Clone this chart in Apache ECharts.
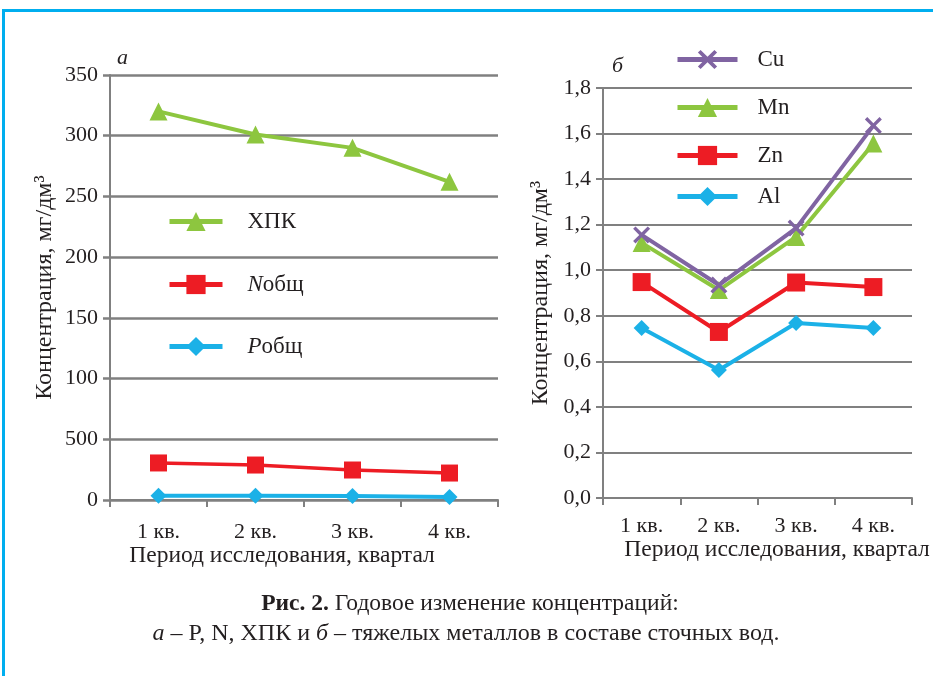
<!DOCTYPE html>
<html><head><meta charset="utf-8">
<script src="https://cdn.jsdelivr.net/npm/echarts@6/dist/echarts.min.js"></script>
<style>html,body{margin:0;padding:0;background:#fff}#c{width:933px;height:676px}</style>
</head><body><div id="c"></div>
<script>
const categories = ['1 кв.', '2 кв.', '3 кв.', '4 кв.'];
const leftTickLabels = ['0', '500', '100', '150', '200', '250', '300', '350'];
const codValues = [320, 301, 290, 262];
const nValues = [30.5, 28.8, 24.7, 22.2];
const pValues = [3.5, 3.5, 3.3, 2.5];
const rightTickLabels = ['0,0', '0,2', '0,4', '0,6', '0,8', '1,0', '1,2', '1,4', '1,6', '1,8'];
const cuValues = [1.155, 0.935, 1.185, 1.635];
const mnValues = [1.12, 0.913, 1.146, 1.556];
const znValues = [0.948, 0.729, 0.946, 0.926];
const alValues = [0.746, 0.562, 0.768, 0.746];

const FONT = 'Liberation Serif';
const TXT = '#231f20';
const GRAY = '#808080';
const GREEN = '#8dc63f', RED = '#ed1c24', BLUE = '#1bb1e7', PURPLE = '#8064a2';
const crossPath = 'path://M0,1.4L1.4,0L5,3.6L8.6,0L10,1.4L6.4,5L10,8.6L8.6,10L5,6.4L1.4,10L0,8.6L3.6,5Z';

const chart = echarts.init(document.getElementById('c'), null, {renderer: 'canvas'});

function xAx(gi, margin) {
  return {
    type: 'category', gridIndex: gi, data: categories, boundaryGap: true,
    axisLine: {lineStyle: {color: GRAY, width: 2}},
    axisTick: {show: true, length: 7, lineStyle: {color: GRAY, width: 2}},
    axisLabel: {color: TXT, fontFamily: FONT, fontSize: 22, margin: margin}
  };
}
function yAx(gi, max, interval, labels, gap, gridW) {
  return {
    type: 'value', gridIndex: gi, min: 0, max: max, interval: interval,
    name: 'Концентрация, мг/дм³', nameLocation: 'middle', nameRotate: 90, nameGap: gap,
    nameTextStyle: {color: TXT, fontFamily: FONT, fontSize: 24},
    axisLine: {show: true, lineStyle: {color: GRAY, width: 2}},
    axisTick: {show: true, length: 7, lineStyle: {color: GRAY, width: gridW}},
    splitLine: {show: true, lineStyle: {color: GRAY, width: gridW}},
    axisLabel: {color: TXT, fontFamily: FONT, fontSize: 22, margin: 12,
      formatter: function (v) { return labels[Math.round(v / interval)]; }}
  };
}
function legendItem(name, left, top, w, pad) {
  return {
    data: [name], left: left, top: top, orient: 'vertical',
    itemWidth: w, itemHeight: 24, padding: 0,
    lineStyle: {width: 5},
    formatter: function (n) {
      if (n === 'Nобщ') return '{i|N}общ';
      if (n === 'Pобщ') return '{i|P}общ';
      return n;
    },
    textStyle: {color: TXT, fontFamily: FONT, fontSize: 23, padding: [0, 0, 0, pad],
      rich: {i: {fontStyle: 'italic', fontFamily: FONT, fontSize: 23, color: TXT}}}
  };
}
function line(name, xi, data, color, symbol, size, width) {
  return {
    type: 'line', name: name, xAxisIndex: xi, yAxisIndex: xi, data: data,
    symbol: symbol, symbolSize: size, showSymbol: true,
    lineStyle: {color: color, width: width},
    itemStyle: {color: color},
    emphasis: {disabled: true}, animation: false, z: 3
  };
}

chart.setOption({
  animation: false,
  backgroundColor: '#fff',
  grid: [
    {left: 110, right: 435, top: 75, bottom: 176},
    {left: 603, right: 21, top: 88, bottom: 178}
  ],
  xAxis: [xAx(0, 21), xAx(1, 17)],
  yAxis: [yAx(0, 350, 50, leftTickLabels, 53, 2.5), yAx(1, 1.8, 0.2, rightTickLabels, 50, 2)],
  legend: [
    legendItem('ХПК', 167, 210, 53, 20),
    legendItem('Nобщ', 167, 273, 53, 20),
    legendItem('Pобщ', 167, 335, 53, 20),
    legendItem('Cu', 675, 48, 60, 15),
    legendItem('Mn', 675, 96, 60, 15),
    legendItem('Zn', 675, 144, 60, 15),
    legendItem('Al', 675, 185, 60, 15)
  ],
  series: [
    line('ХПК', 0, codValues, GREEN, 'triangle', 18, 4),
    line('Nобщ', 0, nValues, RED, 'rect', 17, 3.5),
    line('Pобщ', 0, pValues, BLUE, 'diamond', 16, 4),
    line('Al', 1, alValues, BLUE, 'diamond', 16, 4),
    line('Zn', 1, znValues, RED, 'rect', 18, 4),
    line('Mn', 1, mnValues, GREEN, 'triangle', 18, 4),
    line('Cu', 1, cuValues, PURPLE, crossPath, 17, 4)
  ],
  graphic: [
    {type: 'rect', shape: {x: 2, y: 9, width: 931, height: 3}, style: {fill: '#00aeef'}, silent: true},
    {type: 'rect', shape: {x: 2, y: 9, width: 3, height: 667}, style: {fill: '#00aeef'}, silent: true},
    {type: 'text', left: 117, top: 47, style: {text: 'а', font: 'italic 22px "Liberation Serif"', fill: TXT}},
    {type: 'text', left: 612, top: 55, style: {text: 'б', font: 'italic 22px "Liberation Serif"', fill: TXT}},
    {type: 'text', x: 282, y: 556, style: {text: 'Период исследования, квартал', font: '23.5px "Liberation Serif"', fill: TXT, align: 'center', verticalAlign: 'middle'}},
    {type: 'text', x: 777, y: 550, style: {text: 'Период исследования, квартал', font: '23.5px "Liberation Serif"', fill: TXT, align: 'center', verticalAlign: 'middle'}},
    {type: 'text', x: 470, y: 604, style: {
      text: '{b|Рис. 2.} Годовое изменение концентраций:',
      align: 'center', verticalAlign: 'middle', fill: TXT,
      font: '23.5px "Liberation Serif"',
      rich: {b: {fontWeight: 'bold', fontFamily: FONT, fontSize: 23.5, fill: TXT}}
    }},
    {type: 'text', x: 466, y: 634, style: {
      text: '{i|а} – P, N, ХПК и {i|б} – тяжелых металлов в составе сточных вод.',
      align: 'center', verticalAlign: 'middle', fill: TXT,
      font: '24px "Liberation Serif"',
      rich: {i: {fontStyle: 'italic', fontFamily: FONT, fontSize: 24, fill: TXT}}
    }}
  ]
});
</script></body></html>
